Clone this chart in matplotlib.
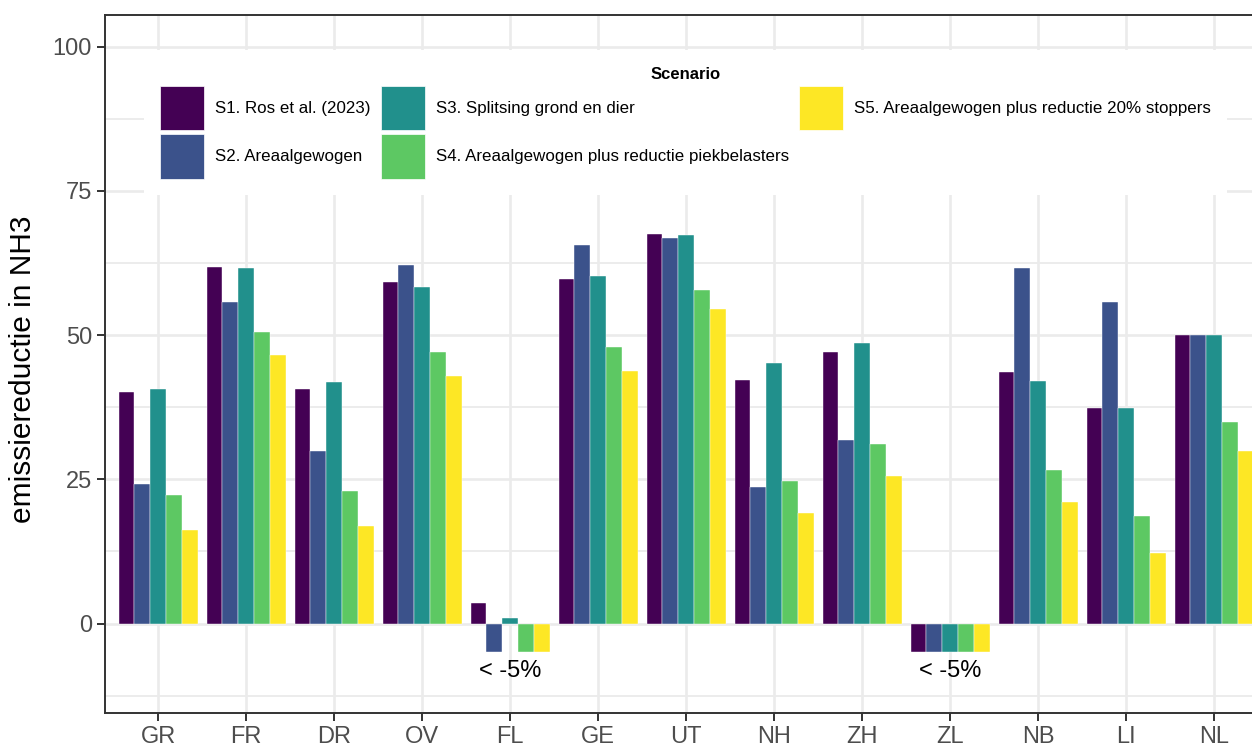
import matplotlib
matplotlib.use("Agg")
import matplotlib.pyplot as plt
import numpy as np
from matplotlib.patches import Patch

plt.rcParams['font.family'] = ['Liberation Sans', 'DejaVu Sans']

provinces = ["GR", "FR", "DR", "OV", "FL", "GE", "UT", "NH", "ZH", "ZL", "NB", "LI", "NL"]
scenarios = ["S1. Ros et al. (2023)", "S2. Areaalgewogen", "S3. Splitsing grond en dier",
             "S4. Areaalgewogen plus reductie piekbelasters",
             "S5. Areaalgewogen plus reductie 20% stoppers"]

s1 = [40.2, 61.9, 40.6, 59.3, 3.6, 59.8, 67.5, 42.2, 47.0, -5, 43.6, 37.3, 50.0]
s2 = [24.2, 55.7, 29.9, 62.2, -5, 65.6, 66.9, 23.7, 31.9, -5, 61.6, 55.8, 50.0]
s3 = [40.6, 61.6, 41.8, 58.3, 1.0, 60.2, 67.3, 45.1, 48.7, -5, 42.1, 37.4, 50.0]
s4 = [22.3, 50.5, 22.9, 47.0, -5, 47.9, 57.8, 24.8, 31.1, -5, 26.7, 18.6, 35.0]
s5 = [16.3, 46.6, 16.9, 42.9, -5, 43.75, 54.45, 19.1, 25.6, -5, 21.0, 12.3, 29.9]
series = [s1, s2, s3, s4, s5]
colors = ["#440154", "#3B528B", "#21908C", "#5DC863", "#FDE725"]

note_text = "< -5%"
note_provinces = ["FL", "ZL"]
note_y = -8.3

W, H = 1252, 747
fig = plt.figure(figsize=(W / 100, H / 100), dpi=100)
ax = fig.add_axes([105.3 / W, (H - 713) / H, 1161.6 / W, 698 / H])

x = np.arange(1, len(provinces) + 1)
bw = 0.9 / len(series)
for k, (vals, c) in enumerate(zip(series, colors)):
    ax.bar(x + (k - 2) * bw, vals, width=bw, color=c, edgecolor='white',
           linewidth=0.3, zorder=3)

for p in note_provinces:
    ax.text(provinces.index(p) + 1, note_y, note_text, ha='center', va='center',
            fontsize=17, color='black', zorder=4)

ax.set_xlim(0.4, len(provinces) + 0.6)
ax.set_ylim(-15.5, 105.5)
ax.set_xticks(x)
ax.set_xticklabels(provinces)
ax.set_yticks([0, 25, 50, 75, 100])
ax.set_yticks([-12.5, 12.5, 37.5, 62.5, 87.5], minor=True)

ax.grid(True, which='major', color='#EBEBEB', linewidth=1.9, zorder=0)
ax.grid(True, which='minor', axis='y', color='#EBEBEB', linewidth=1.3, zorder=0)
ax.set_axisbelow(True)

ax.tick_params(axis='both', which='major', length=5.5, width=1.4, color='#333333',
               labelsize=17, labelcolor='#4D4D4D', pad=4)
ax.tick_params(axis='y', which='minor', length=0)
for sp in ax.spines.values():
    sp.set_color('#333333')
    sp.set_linewidth(1.4)

ax.set_ylabel("emissiereductie in NH3", fontsize=21.5, color='black', va='center')
ax.yaxis.set_label_coords(-0.0711, 0.493)

handles = [Patch(facecolor=c, edgecolor='white', linewidth=0.5) for c in colors]
leg = ax.legend(handles, scenarios, title="Scenario", ncol=3,
                loc='upper center', bbox_to_anchor=(685.5 / W, 1 - 42 / H),
                bbox_transform=fig.transFigure, fontsize=12.2,
                title_fontproperties={'weight': 'bold', 'size': 12},
                handlelength=2.6, handleheight=3.68, handletextpad=0.63,
                columnspacing=0.63, labelspacing=0.24, borderpad=0.95,
                frameon=True, fancybox=False, framealpha=1)
leg.get_frame().set_facecolor('white')
leg.get_frame().set_edgecolor('none')
leg.set_zorder(10)

fig.savefig("out.png", dpi=100)
